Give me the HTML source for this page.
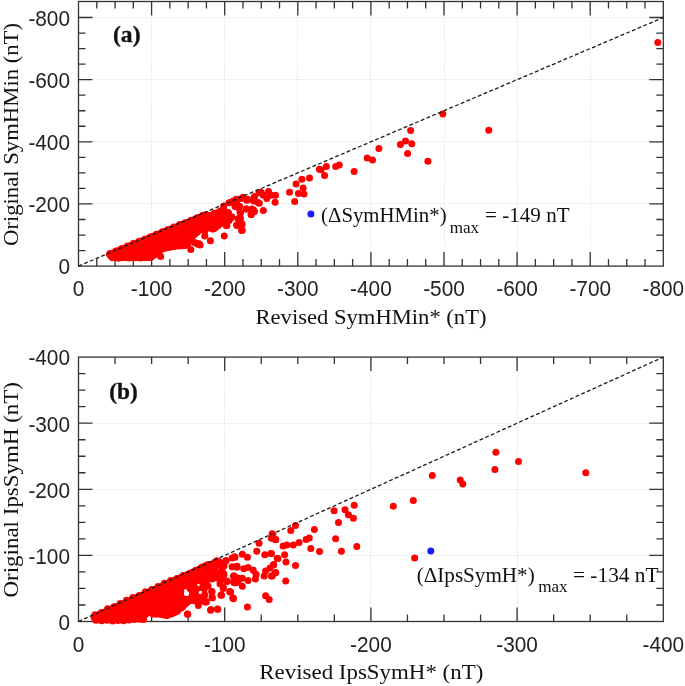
<!DOCTYPE html>
<html><head><meta charset="utf-8"><style>html,body{margin:0;padding:0;background:#fff;overflow:hidden;}
svg{display:block;will-change:transform;}
.tl{font-family:"Liberation Sans", sans-serif;font-size:20.8px;fill:#222;}
.at{font-family:"Liberation Serif", serif;font-size:22px;fill:#111;}
.pl{font-family:"Liberation Serif", serif;font-size:24px;font-weight:bold;fill:#111;stroke:#111;stroke-width:0.35px;}
.an{font-family:"Liberation Serif", serif;font-size:20px;fill:#111;}
.sub{font-family:"Liberation Serif", serif;font-size:17px;fill:#111;}
</style></head>
<body><svg width="685" height="686" viewBox="0 0 685 686">
<rect width="685" height="686" fill="#ffffff"/>
<line x1="151.50" y1="1.50" x2="151.50" y2="266.10" stroke="#dcdcdc" stroke-width="1" stroke-dasharray="1 1.5"/>
<line x1="224.50" y1="1.50" x2="224.50" y2="266.10" stroke="#dcdcdc" stroke-width="1" stroke-dasharray="1 1.5"/>
<line x1="297.50" y1="1.50" x2="297.50" y2="266.10" stroke="#dcdcdc" stroke-width="1" stroke-dasharray="1 1.5"/>
<line x1="370.50" y1="1.50" x2="370.50" y2="266.10" stroke="#dcdcdc" stroke-width="1" stroke-dasharray="1 1.5"/>
<line x1="444.50" y1="1.50" x2="444.50" y2="266.10" stroke="#dcdcdc" stroke-width="1" stroke-dasharray="1 1.5"/>
<line x1="517.50" y1="1.50" x2="517.50" y2="266.10" stroke="#dcdcdc" stroke-width="1" stroke-dasharray="1 1.5"/>
<line x1="590.50" y1="1.50" x2="590.50" y2="266.10" stroke="#dcdcdc" stroke-width="1" stroke-dasharray="1 1.5"/>
<line x1="78.50" y1="203.50" x2="663.30" y2="203.50" stroke="#dcdcdc" stroke-width="1" stroke-dasharray="1 1.5"/>
<line x1="78.50" y1="141.50" x2="663.30" y2="141.50" stroke="#dcdcdc" stroke-width="1" stroke-dasharray="1 1.5"/>
<line x1="78.50" y1="79.50" x2="663.30" y2="79.50" stroke="#dcdcdc" stroke-width="1" stroke-dasharray="1 1.5"/>
<line x1="78.50" y1="17.50" x2="663.30" y2="17.50" stroke="#dcdcdc" stroke-width="1" stroke-dasharray="1 1.5"/>
<line x1="224.50" y1="357.10" x2="224.50" y2="621.50" stroke="#dcdcdc" stroke-width="1" stroke-dasharray="1 1.5"/>
<line x1="370.50" y1="357.10" x2="370.50" y2="621.50" stroke="#dcdcdc" stroke-width="1" stroke-dasharray="1 1.5"/>
<line x1="517.50" y1="357.10" x2="517.50" y2="621.50" stroke="#dcdcdc" stroke-width="1" stroke-dasharray="1 1.5"/>
<line x1="78.50" y1="555.50" x2="663.30" y2="555.50" stroke="#dcdcdc" stroke-width="1" stroke-dasharray="1 1.5"/>
<line x1="78.50" y1="489.50" x2="663.30" y2="489.50" stroke="#dcdcdc" stroke-width="1" stroke-dasharray="1 1.5"/>
<line x1="78.50" y1="423.50" x2="663.30" y2="423.50" stroke="#dcdcdc" stroke-width="1" stroke-dasharray="1 1.5"/>
<path d="M151.60 266.10V252.10M151.60 1.50V15.50M224.70 266.10V252.10M224.70 1.50V15.50M297.80 266.10V252.10M297.80 1.50V15.50M370.90 266.10V252.10M370.90 1.50V15.50M444.00 266.10V252.10M444.00 1.50V15.50M517.10 266.10V252.10M517.10 1.50V15.50M590.20 266.10V252.10M590.20 1.50V15.50M96.78 266.10V259.10M96.78 1.50V8.50M115.05 266.10V259.10M115.05 1.50V8.50M133.32 266.10V259.10M133.32 1.50V8.50M169.88 266.10V259.10M169.88 1.50V8.50M188.15 266.10V259.10M188.15 1.50V8.50M206.43 266.10V259.10M206.43 1.50V8.50M242.97 266.10V259.10M242.97 1.50V8.50M261.25 266.10V259.10M261.25 1.50V8.50M279.52 266.10V259.10M279.52 1.50V8.50M316.07 266.10V259.10M316.07 1.50V8.50M334.35 266.10V259.10M334.35 1.50V8.50M352.62 266.10V259.10M352.62 1.50V8.50M389.18 266.10V259.10M389.18 1.50V8.50M407.45 266.10V259.10M407.45 1.50V8.50M425.72 266.10V259.10M425.72 1.50V8.50M462.27 266.10V259.10M462.27 1.50V8.50M480.55 266.10V259.10M480.55 1.50V8.50M498.82 266.10V259.10M498.82 1.50V8.50M535.38 266.10V259.10M535.38 1.50V8.50M553.65 266.10V259.10M553.65 1.50V8.50M571.92 266.10V259.10M571.92 1.50V8.50M608.48 266.10V259.10M608.48 1.50V8.50M626.75 266.10V259.10M626.75 1.50V8.50M645.02 266.10V259.10M645.02 1.50V8.50M78.50 203.95H92.50M663.30 203.95H649.30M78.50 141.80H92.50M663.30 141.80H649.30M78.50 79.65H92.50M663.30 79.65H649.30M78.50 17.50H92.50M663.30 17.50H649.30M78.50 250.56H85.50M663.30 250.56H656.30M78.50 235.03H85.50M663.30 235.03H656.30M78.50 219.49H85.50M663.30 219.49H656.30M78.50 188.41H85.50M663.30 188.41H656.30M78.50 172.88H85.50M663.30 172.88H656.30M78.50 157.34H85.50M663.30 157.34H656.30M78.50 126.26H85.50M663.30 126.26H656.30M78.50 110.73H85.50M663.30 110.73H656.30M78.50 95.19H85.50M663.30 95.19H656.30M78.50 64.11H85.50M663.30 64.11H656.30M78.50 48.58H85.50M663.30 48.58H656.30M78.50 33.04H85.50M663.30 33.04H656.30" stroke="#333333" stroke-width="1.3" fill="none"/>
<rect x="78.5" y="1.5" width="584.80" height="264.60" stroke="#333333" stroke-width="1.3" fill="none"/>
<path d="M224.70 621.50V607.50M224.70 357.10V371.10M370.90 621.50V607.50M370.90 357.10V371.10M517.10 621.50V607.50M517.10 357.10V371.10M115.05 621.50V614.50M115.05 357.10V364.10M151.60 621.50V614.50M151.60 357.10V364.10M188.15 621.50V614.50M188.15 357.10V364.10M261.25 621.50V614.50M261.25 357.10V364.10M297.80 621.50V614.50M297.80 357.10V364.10M334.35 621.50V614.50M334.35 357.10V364.10M407.45 621.50V614.50M407.45 357.10V364.10M444.00 621.50V614.50M444.00 357.10V364.10M480.55 621.50V614.50M480.55 357.10V364.10M553.65 621.50V614.50M553.65 357.10V364.10M590.20 621.50V614.50M590.20 357.10V364.10M626.75 621.50V614.50M626.75 357.10V364.10M78.50 555.40H92.50M663.30 555.40H649.30M78.50 489.30H92.50M663.30 489.30H649.30M78.50 423.20H92.50M663.30 423.20H649.30M78.50 604.98H85.50M663.30 604.98H656.30M78.50 588.45H85.50M663.30 588.45H656.30M78.50 571.92H85.50M663.30 571.92H656.30M78.50 538.88H85.50M663.30 538.88H656.30M78.50 522.35H85.50M663.30 522.35H656.30M78.50 505.83H85.50M663.30 505.83H656.30M78.50 472.77H85.50M663.30 472.77H656.30M78.50 456.25H85.50M663.30 456.25H656.30M78.50 439.73H85.50M663.30 439.73H656.30M78.50 406.68H85.50M663.30 406.68H656.30M78.50 390.15H85.50M663.30 390.15H656.30M78.50 373.62H85.50M663.30 373.62H656.30" stroke="#333333" stroke-width="1.3" fill="none"/>
<rect x="78.5" y="357.1" width="584.80" height="264.40" stroke="#333333" stroke-width="1.3" fill="none"/>
<path d="M109.5 254.5L120.0 250.1L135.0 243.7L150.0 237.8L165.0 231.4L180.0 225.8L195.0 219.4L206.0 214.7L210.0 216.0L221.0 211.3L224.0 210.0L226.0 214.0L224.0 219.0L220.0 224.3L214.2 228.7L206.9 227.5L202.0 228.0L197.0 232.5L192.0 236.5L189.0 240.0L188.0 244.0L185.0 245.5L176.0 246.0L168.0 247.5L163.0 248.5L158.0 252.0L155.0 254.5L150.0 257.4L130.0 257.4L112.0 257.4Z" fill="#ff0000" stroke="#ff0000" stroke-width="7.0" stroke-linejoin="round"/>
<path d="M94.0 616.9L100.0 614.2L110.0 609.7L120.0 605.1L130.0 600.6L140.0 596.1L150.0 591.6L160.0 587.1L170.0 582.5L180.0 578.0L190.0 573.5L200.0 569.0L206.0 566.3L208.0 568.0L207.0 578.0L204.0 590.0L200.0 598.0L196.0 601.0L190.0 600.0L184.0 605.0L180.0 608.0L177.0 611.0L171.0 614.0L166.8 615.5L160.0 614.0L152.8 614.0L149.3 611.2L145.8 614.0L143.0 618.0L130.0 619.0L110.0 619.5L95.0 619.5Z" fill="#ff0000" stroke="#ff0000" stroke-width="7.0" stroke-linejoin="round"/>
<circle cx="110.0" cy="253.5" r="3.5" fill="#ff0000"/>
<circle cx="115.8" cy="251.0" r="3.5" fill="#ff0000"/>
<circle cx="121.6" cy="248.6" r="3.5" fill="#ff0000"/>
<circle cx="127.4" cy="246.1" r="3.5" fill="#ff0000"/>
<circle cx="133.2" cy="243.6" r="3.5" fill="#ff0000"/>
<circle cx="139.0" cy="241.2" r="3.5" fill="#ff0000"/>
<circle cx="144.8" cy="239.2" r="3.5" fill="#ff0000"/>
<circle cx="150.6" cy="236.8" r="3.5" fill="#ff0000"/>
<circle cx="156.4" cy="234.3" r="3.5" fill="#ff0000"/>
<circle cx="162.2" cy="231.8" r="3.5" fill="#ff0000"/>
<circle cx="168.0" cy="229.4" r="3.5" fill="#ff0000"/>
<circle cx="173.8" cy="226.9" r="3.5" fill="#ff0000"/>
<circle cx="179.6" cy="224.4" r="3.5" fill="#ff0000"/>
<circle cx="185.4" cy="222.7" r="3.5" fill="#ff0000"/>
<circle cx="191.2" cy="220.2" r="3.5" fill="#ff0000"/>
<circle cx="197.0" cy="217.7" r="3.5" fill="#ff0000"/>
<circle cx="202.8" cy="215.3" r="3.5" fill="#ff0000"/>
<circle cx="208.6" cy="215.8" r="3.5" fill="#ff0000"/>
<circle cx="214.4" cy="213.3" r="3.5" fill="#ff0000"/>
<circle cx="220.2" cy="210.9" r="3.5" fill="#ff0000"/>
<circle cx="95.0" cy="614.7" r="3.5" fill="#ff0000"/>
<circle cx="101.3" cy="612.6" r="3.5" fill="#ff0000"/>
<circle cx="107.6" cy="608.7" r="3.5" fill="#ff0000"/>
<circle cx="113.9" cy="606.7" r="3.5" fill="#ff0000"/>
<circle cx="120.2" cy="603.5" r="3.5" fill="#ff0000"/>
<circle cx="126.5" cy="600.3" r="3.5" fill="#ff0000"/>
<circle cx="132.8" cy="597.6" r="3.5" fill="#ff0000"/>
<circle cx="139.1" cy="595.5" r="3.5" fill="#ff0000"/>
<circle cx="145.4" cy="591.7" r="3.5" fill="#ff0000"/>
<circle cx="151.7" cy="589.6" r="3.5" fill="#ff0000"/>
<circle cx="158.0" cy="586.5" r="3.5" fill="#ff0000"/>
<circle cx="164.3" cy="583.2" r="3.5" fill="#ff0000"/>
<circle cx="170.6" cy="580.6" r="3.5" fill="#ff0000"/>
<circle cx="176.9" cy="578.4" r="3.5" fill="#ff0000"/>
<circle cx="183.2" cy="575.5" r="3.5" fill="#ff0000"/>
<circle cx="189.5" cy="573.4" r="3.5" fill="#ff0000"/>
<circle cx="195.8" cy="570.3" r="3.5" fill="#ff0000"/>
<circle cx="202.1" cy="567.0" r="3.5" fill="#ff0000"/>
<circle cx="208.4" cy="564.4" r="3.5" fill="#ff0000"/>
<circle cx="214.7" cy="562.2" r="3.5" fill="#ff0000"/>
<circle cx="113.0" cy="257.8" r="3.5" fill="#ff0000"/>
<circle cx="118.5" cy="258.2" r="3.5" fill="#ff0000"/>
<circle cx="124.0" cy="257.6" r="3.5" fill="#ff0000"/>
<circle cx="129.5" cy="258.1" r="3.5" fill="#ff0000"/>
<circle cx="135.0" cy="257.7" r="3.5" fill="#ff0000"/>
<circle cx="140.5" cy="257.9" r="3.5" fill="#ff0000"/>
<circle cx="146.0" cy="257.5" r="3.5" fill="#ff0000"/>
<circle cx="151.0" cy="257.2" r="3.5" fill="#ff0000"/>
<circle cx="155.5" cy="613.8" r="3.5" fill="#ff0000"/>
<circle cx="161.0" cy="614.2" r="3.5" fill="#ff0000"/>
<circle cx="166.8" cy="615.3" r="3.5" fill="#ff0000"/>
<circle cx="172.0" cy="613.6" r="3.5" fill="#ff0000"/>
<circle cx="177.3" cy="611.2" r="3.5" fill="#ff0000"/>
<circle cx="181.0" cy="608.0" r="3.5" fill="#ff0000"/>
<circle cx="96.0" cy="620.3" r="3.5" fill="#ff0000"/>
<circle cx="101.5" cy="620.8" r="3.5" fill="#ff0000"/>
<circle cx="107.0" cy="620.2" r="3.5" fill="#ff0000"/>
<circle cx="112.5" cy="620.9" r="3.5" fill="#ff0000"/>
<circle cx="118.0" cy="620.4" r="3.5" fill="#ff0000"/>
<circle cx="123.5" cy="620.7" r="3.5" fill="#ff0000"/>
<circle cx="129.0" cy="620.1" r="3.5" fill="#ff0000"/>
<circle cx="134.5" cy="619.6" r="3.5" fill="#ff0000"/>
<circle cx="140.0" cy="619.2" r="3.5" fill="#ff0000"/>
<circle cx="143.5" cy="619.5" r="3.5" fill="#ff0000"/>
<circle cx="186.5" cy="593.5" r="2.6" fill="#fff"/>
<circle cx="185.5" cy="590.5" r="1.6" fill="#fff"/>
<circle cx="200.5" cy="592.5" r="1.8" fill="#fff"/>
<circle cx="198.5" cy="585" r="1.2" fill="#fff"/>
<circle cx="228.3" cy="213.0" r="3.5" fill="#ff0000"/>
<circle cx="225.0" cy="217.6" r="3.5" fill="#ff0000"/>
<circle cx="226.9" cy="225.5" r="3.5" fill="#ff0000"/>
<circle cx="223.7" cy="206.1" r="3.5" fill="#ff0000"/>
<circle cx="228.9" cy="202.8" r="3.5" fill="#ff0000"/>
<circle cx="232.9" cy="201.2" r="3.5" fill="#ff0000"/>
<circle cx="229.0" cy="220.5" r="3.5" fill="#ff0000"/>
<circle cx="231.0" cy="218.0" r="3.5" fill="#ff0000"/>
<circle cx="224.2" cy="236.1" r="3.5" fill="#ff0000"/>
<circle cx="210.4" cy="240.7" r="3.5" fill="#ff0000"/>
<circle cx="204.8" cy="236.1" r="3.5" fill="#ff0000"/>
<circle cx="199.2" cy="243.8" r="3.5" fill="#ff0000"/>
<circle cx="241.6" cy="230.5" r="3.5" fill="#ff0000"/>
<circle cx="237.0" cy="225.4" r="3.5" fill="#ff0000"/>
<circle cx="242.1" cy="224.3" r="3.5" fill="#ff0000"/>
<circle cx="226.3" cy="225.4" r="3.5" fill="#ff0000"/>
<circle cx="251.3" cy="214.6" r="3.5" fill="#ff0000"/>
<circle cx="253.4" cy="210.0" r="3.5" fill="#ff0000"/>
<circle cx="246.2" cy="209.0" r="3.5" fill="#ff0000"/>
<circle cx="239.0" cy="208.0" r="3.5" fill="#ff0000"/>
<circle cx="235.0" cy="206.5" r="3.5" fill="#ff0000"/>
<circle cx="237.0" cy="200.3" r="3.5" fill="#ff0000"/>
<circle cx="243.1" cy="197.3" r="3.5" fill="#ff0000"/>
<circle cx="246.7" cy="200.3" r="3.5" fill="#ff0000"/>
<circle cx="253.9" cy="197.8" r="3.5" fill="#ff0000"/>
<circle cx="259.0" cy="192.7" r="3.5" fill="#ff0000"/>
<circle cx="258.0" cy="202.4" r="3.5" fill="#ff0000"/>
<circle cx="228.3" cy="212.6" r="3.5" fill="#ff0000"/>
<circle cx="238.0" cy="218.7" r="3.5" fill="#ff0000"/>
<circle cx="240.1" cy="212.6" r="3.5" fill="#ff0000"/>
<circle cx="216.6" cy="224.9" r="3.5" fill="#ff0000"/>
<circle cx="212.5" cy="229.0" r="3.5" fill="#ff0000"/>
<circle cx="204.8" cy="231.0" r="3.5" fill="#ff0000"/>
<circle cx="190.8" cy="249.6" r="3.5" fill="#ff0000"/>
<circle cx="197.2" cy="243.8" r="3.5" fill="#ff0000"/>
<circle cx="200.1" cy="245.0" r="3.5" fill="#ff0000"/>
<circle cx="198.1" cy="244.2" r="3.5" fill="#ff0000"/>
<circle cx="194.6" cy="242.4" r="3.5" fill="#ff0000"/>
<circle cx="160.7" cy="256.6" r="3.5" fill="#ff0000"/>
<circle cx="289.5" cy="192.3" r="3.5" fill="#ff0000"/>
<circle cx="275.1" cy="202.3" r="3.5" fill="#ff0000"/>
<circle cx="275.5" cy="195.3" r="3.5" fill="#ff0000"/>
<circle cx="268.5" cy="191.4" r="3.5" fill="#ff0000"/>
<circle cx="261.1" cy="192.3" r="3.5" fill="#ff0000"/>
<circle cx="266.8" cy="198.4" r="3.5" fill="#ff0000"/>
<circle cx="263.3" cy="195.3" r="3.5" fill="#ff0000"/>
<circle cx="271.2" cy="195.3" r="3.5" fill="#ff0000"/>
<circle cx="263.3" cy="210.6" r="3.5" fill="#ff0000"/>
<circle cx="259.3" cy="203.2" r="3.5" fill="#ff0000"/>
<circle cx="254.5" cy="196.6" r="3.5" fill="#ff0000"/>
<circle cx="253.6" cy="201.0" r="3.5" fill="#ff0000"/>
<circle cx="247.5" cy="199.3" r="3.5" fill="#ff0000"/>
<circle cx="241.4" cy="198.4" r="3.5" fill="#ff0000"/>
<circle cx="236.1" cy="199.3" r="3.5" fill="#ff0000"/>
<circle cx="231.8" cy="201.9" r="3.5" fill="#ff0000"/>
<circle cx="246.2" cy="208.9" r="3.5" fill="#ff0000"/>
<circle cx="251.9" cy="208.9" r="3.5" fill="#ff0000"/>
<circle cx="254.5" cy="211.5" r="3.5" fill="#ff0000"/>
<circle cx="251.0" cy="214.6" r="3.5" fill="#ff0000"/>
<circle cx="239.6" cy="206.3" r="3.5" fill="#ff0000"/>
<circle cx="235.3" cy="205.4" r="3.5" fill="#ff0000"/>
<circle cx="240.5" cy="213.3" r="3.5" fill="#ff0000"/>
<circle cx="231.8" cy="216.8" r="3.5" fill="#ff0000"/>
<circle cx="240.5" cy="218.5" r="3.5" fill="#ff0000"/>
<circle cx="241.4" cy="223.8" r="3.5" fill="#ff0000"/>
<circle cx="236.6" cy="225.1" r="3.5" fill="#ff0000"/>
<circle cx="242.3" cy="230.3" r="3.5" fill="#ff0000"/>
<circle cx="319.4" cy="169.3" r="3.5" fill="#ff0000"/>
<circle cx="309.5" cy="178.1" r="3.5" fill="#ff0000"/>
<circle cx="301.9" cy="179.3" r="3.5" fill="#ff0000"/>
<circle cx="296.1" cy="183.9" r="3.5" fill="#ff0000"/>
<circle cx="303.1" cy="188.0" r="3.5" fill="#ff0000"/>
<circle cx="298.4" cy="193.6" r="3.5" fill="#ff0000"/>
<circle cx="304.0" cy="193.9" r="3.5" fill="#ff0000"/>
<circle cx="294.7" cy="201.5" r="3.5" fill="#ff0000"/>
<circle cx="378.9" cy="148.4" r="3.5" fill="#ff0000"/>
<circle cx="367.2" cy="158.1" r="3.5" fill="#ff0000"/>
<circle cx="372.5" cy="159.9" r="3.5" fill="#ff0000"/>
<circle cx="354.1" cy="171.5" r="3.5" fill="#ff0000"/>
<circle cx="335.7" cy="166.6" r="3.5" fill="#ff0000"/>
<circle cx="339.2" cy="165.1" r="3.5" fill="#ff0000"/>
<circle cx="326.4" cy="166.6" r="3.5" fill="#ff0000"/>
<circle cx="321.1" cy="169.8" r="3.5" fill="#ff0000"/>
<circle cx="324.6" cy="175.6" r="3.5" fill="#ff0000"/>
<circle cx="442.8" cy="114.0" r="3.5" fill="#ff0000"/>
<circle cx="410.6" cy="130.6" r="3.5" fill="#ff0000"/>
<circle cx="405.5" cy="141.1" r="3.5" fill="#ff0000"/>
<circle cx="400.4" cy="144.6" r="3.5" fill="#ff0000"/>
<circle cx="411.8" cy="143.8" r="3.5" fill="#ff0000"/>
<circle cx="407.6" cy="153.5" r="3.5" fill="#ff0000"/>
<circle cx="427.9" cy="161.3" r="3.5" fill="#ff0000"/>
<circle cx="488.8" cy="130.3" r="3.5" fill="#ff0000"/>
<circle cx="657.8" cy="42.4" r="3.5" fill="#ff0000"/>
<circle cx="272.1" cy="533.8" r="3.5" fill="#ff0000"/>
<circle cx="271.4" cy="538.2" r="3.5" fill="#ff0000"/>
<circle cx="275.5" cy="539.7" r="3.5" fill="#ff0000"/>
<circle cx="259.0" cy="543.3" r="3.5" fill="#ff0000"/>
<circle cx="256.8" cy="551.3" r="3.5" fill="#ff0000"/>
<circle cx="264.8" cy="554.7" r="3.5" fill="#ff0000"/>
<circle cx="270.7" cy="553.5" r="3.5" fill="#ff0000"/>
<circle cx="277.2" cy="558.6" r="3.5" fill="#ff0000"/>
<circle cx="235.0" cy="557.2" r="3.5" fill="#ff0000"/>
<circle cx="242.3" cy="554.2" r="3.5" fill="#ff0000"/>
<circle cx="247.4" cy="557.2" r="3.5" fill="#ff0000"/>
<circle cx="232.1" cy="557.9" r="3.5" fill="#ff0000"/>
<circle cx="226.2" cy="560.8" r="3.5" fill="#ff0000"/>
<circle cx="218.9" cy="561.5" r="3.5" fill="#ff0000"/>
<circle cx="213.8" cy="565.2" r="3.5" fill="#ff0000"/>
<circle cx="236.4" cy="566.6" r="3.5" fill="#ff0000"/>
<circle cx="243.7" cy="568.8" r="3.5" fill="#ff0000"/>
<circle cx="248.1" cy="567.4" r="3.5" fill="#ff0000"/>
<circle cx="253.2" cy="570.3" r="3.5" fill="#ff0000"/>
<circle cx="256.1" cy="574.6" r="3.5" fill="#ff0000"/>
<circle cx="255.4" cy="579.0" r="3.5" fill="#ff0000"/>
<circle cx="248.1" cy="580.5" r="3.5" fill="#ff0000"/>
<circle cx="242.3" cy="578.3" r="3.5" fill="#ff0000"/>
<circle cx="242.3" cy="586.3" r="3.5" fill="#ff0000"/>
<circle cx="234.2" cy="576.1" r="3.5" fill="#ff0000"/>
<circle cx="234.2" cy="582.7" r="3.5" fill="#ff0000"/>
<circle cx="237.9" cy="581.2" r="3.5" fill="#ff0000"/>
<circle cx="227.0" cy="581.2" r="3.5" fill="#ff0000"/>
<circle cx="221.1" cy="579.7" r="3.5" fill="#ff0000"/>
<circle cx="223.3" cy="587.0" r="3.5" fill="#ff0000"/>
<circle cx="230.6" cy="592.1" r="3.5" fill="#ff0000"/>
<circle cx="233.5" cy="598.7" r="3.5" fill="#ff0000"/>
<circle cx="221.1" cy="595.0" r="3.5" fill="#ff0000"/>
<circle cx="212.4" cy="598.0" r="3.5" fill="#ff0000"/>
<circle cx="211.7" cy="591.4" r="3.5" fill="#ff0000"/>
<circle cx="205.8" cy="601.6" r="3.5" fill="#ff0000"/>
<circle cx="210.9" cy="609.6" r="3.5" fill="#ff0000"/>
<circle cx="217.5" cy="608.9" r="3.5" fill="#ff0000"/>
<circle cx="247.4" cy="607.1" r="3.5" fill="#ff0000"/>
<circle cx="265.6" cy="595.8" r="3.5" fill="#ff0000"/>
<circle cx="269.2" cy="599.4" r="3.5" fill="#ff0000"/>
<circle cx="264.1" cy="576.1" r="3.5" fill="#ff0000"/>
<circle cx="265.6" cy="571.0" r="3.5" fill="#ff0000"/>
<circle cx="271.4" cy="576.1" r="3.5" fill="#ff0000"/>
<circle cx="275.8" cy="572.5" r="3.5" fill="#ff0000"/>
<circle cx="273.6" cy="564.4" r="3.5" fill="#ff0000"/>
<circle cx="270.0" cy="568.1" r="3.5" fill="#ff0000"/>
<circle cx="221.9" cy="563.7" r="3.5" fill="#ff0000"/>
<circle cx="214.6" cy="568.1" r="3.5" fill="#ff0000"/>
<circle cx="221.9" cy="569.5" r="3.5" fill="#ff0000"/>
<circle cx="218.9" cy="574.6" r="3.5" fill="#ff0000"/>
<circle cx="223.3" cy="578.3" r="3.5" fill="#ff0000"/>
<circle cx="208.7" cy="575.4" r="3.5" fill="#ff0000"/>
<circle cx="207.3" cy="566.6" r="3.5" fill="#ff0000"/>
<circle cx="237.1" cy="566.3" r="3.5" fill="#ff0000"/>
<circle cx="233.6" cy="576.0" r="3.5" fill="#ff0000"/>
<circle cx="236.1" cy="582.7" r="3.5" fill="#ff0000"/>
<circle cx="230.0" cy="591.8" r="3.5" fill="#ff0000"/>
<circle cx="233.1" cy="598.0" r="3.5" fill="#ff0000"/>
<circle cx="221.3" cy="594.9" r="3.5" fill="#ff0000"/>
<circle cx="217.8" cy="609.2" r="3.5" fill="#ff0000"/>
<circle cx="210.6" cy="610.2" r="3.5" fill="#ff0000"/>
<circle cx="187.7" cy="614.3" r="3.5" fill="#ff0000"/>
<circle cx="198.4" cy="605.6" r="3.5" fill="#ff0000"/>
<circle cx="205.0" cy="602.0" r="3.5" fill="#ff0000"/>
<circle cx="182.6" cy="607.1" r="3.5" fill="#ff0000"/>
<circle cx="187.5" cy="613.9" r="3.5" fill="#ff0000"/>
<circle cx="334.1" cy="510.7" r="3.5" fill="#ff0000"/>
<circle cx="345.0" cy="509.7" r="3.5" fill="#ff0000"/>
<circle cx="348.4" cy="514.8" r="3.5" fill="#ff0000"/>
<circle cx="338.5" cy="522.4" r="3.5" fill="#ff0000"/>
<circle cx="335.6" cy="538.8" r="3.5" fill="#ff0000"/>
<circle cx="341.4" cy="551.2" r="3.5" fill="#ff0000"/>
<circle cx="314.4" cy="529.6" r="3.5" fill="#ff0000"/>
<circle cx="295.5" cy="525.4" r="3.5" fill="#ff0000"/>
<circle cx="290.8" cy="530.5" r="3.5" fill="#ff0000"/>
<circle cx="309.3" cy="538.1" r="3.5" fill="#ff0000"/>
<circle cx="306.1" cy="539.5" r="3.5" fill="#ff0000"/>
<circle cx="299.1" cy="542.5" r="3.5" fill="#ff0000"/>
<circle cx="293.3" cy="545.1" r="3.5" fill="#ff0000"/>
<circle cx="286.8" cy="545.1" r="3.5" fill="#ff0000"/>
<circle cx="283.1" cy="546.1" r="3.5" fill="#ff0000"/>
<circle cx="310.8" cy="548.6" r="3.5" fill="#ff0000"/>
<circle cx="319.5" cy="551.5" r="3.5" fill="#ff0000"/>
<circle cx="284.6" cy="554.8" r="3.5" fill="#ff0000"/>
<circle cx="278.0" cy="558.5" r="3.5" fill="#ff0000"/>
<circle cx="286.0" cy="562.1" r="3.5" fill="#ff0000"/>
<circle cx="295.5" cy="565.5" r="3.5" fill="#ff0000"/>
<circle cx="273.6" cy="565.0" r="3.5" fill="#ff0000"/>
<circle cx="271.5" cy="553.4" r="3.5" fill="#ff0000"/>
<circle cx="272.9" cy="534.4" r="3.5" fill="#ff0000"/>
<circle cx="275.8" cy="539.5" r="3.5" fill="#ff0000"/>
<circle cx="275.1" cy="573.1" r="3.5" fill="#ff0000"/>
<circle cx="272.2" cy="576.0" r="3.5" fill="#ff0000"/>
<circle cx="285.7" cy="581.1" r="3.5" fill="#ff0000"/>
<circle cx="432.3" cy="475.5" r="3.5" fill="#ff0000"/>
<circle cx="413.3" cy="500.4" r="3.5" fill="#ff0000"/>
<circle cx="393.3" cy="506.2" r="3.5" fill="#ff0000"/>
<circle cx="354.2" cy="505.3" r="3.5" fill="#ff0000"/>
<circle cx="353.4" cy="518.2" r="3.5" fill="#ff0000"/>
<circle cx="356.8" cy="546.6" r="3.5" fill="#ff0000"/>
<circle cx="414.7" cy="557.9" r="3.5" fill="#ff0000"/>
<circle cx="460.2" cy="479.9" r="3.5" fill="#ff0000"/>
<circle cx="462.8" cy="484.1" r="3.5" fill="#ff0000"/>
<circle cx="494.9" cy="469.4" r="3.5" fill="#ff0000"/>
<circle cx="495.9" cy="452.3" r="3.5" fill="#ff0000"/>
<circle cx="518.5" cy="461.5" r="3.5" fill="#ff0000"/>
<circle cx="585.8" cy="472.8" r="3.5" fill="#ff0000"/>
<circle cx="234.5" cy="556.8" r="3.5" fill="#ff0000"/>
<circle cx="225.7" cy="560.8" r="3.5" fill="#ff0000"/>
<circle cx="216.8" cy="560.8" r="3.5" fill="#ff0000"/>
<circle cx="206.4" cy="565.2" r="3.5" fill="#ff0000"/>
<circle cx="215.2" cy="566.8" r="3.5" fill="#ff0000"/>
<circle cx="220.8" cy="564.4" r="3.5" fill="#ff0000"/>
<circle cx="224.0" cy="566.0" r="3.5" fill="#ff0000"/>
<circle cx="236.9" cy="567.2" r="3.5" fill="#ff0000"/>
<circle cx="232.1" cy="566.8" r="3.5" fill="#ff0000"/>
<circle cx="220.0" cy="572.4" r="3.5" fill="#ff0000"/>
<circle cx="214.4" cy="574.0" r="3.5" fill="#ff0000"/>
<circle cx="224.0" cy="574.0" r="3.5" fill="#ff0000"/>
<circle cx="233.7" cy="576.5" r="3.5" fill="#ff0000"/>
<circle cx="237.7" cy="578.0" r="3.5" fill="#ff0000"/>
<circle cx="233.7" cy="582.0" r="3.5" fill="#ff0000"/>
<circle cx="227.3" cy="581.3" r="3.5" fill="#ff0000"/>
<circle cx="220.0" cy="583.7" r="3.5" fill="#ff0000"/>
<circle cx="223.2" cy="588.5" r="3.5" fill="#ff0000"/>
<circle cx="229.7" cy="591.7" r="3.5" fill="#ff0000"/>
<circle cx="232.9" cy="598.1" r="3.5" fill="#ff0000"/>
<circle cx="221.2" cy="595.3" r="3.5" fill="#ff0000"/>
<circle cx="212.0" cy="591.7" r="3.5" fill="#ff0000"/>
<circle cx="212.0" cy="597.3" r="3.5" fill="#ff0000"/>
<circle cx="204.8" cy="594.9" r="3.5" fill="#ff0000"/>
<circle cx="201.6" cy="600.5" r="3.5" fill="#ff0000"/>
<circle cx="206.4" cy="602.1" r="3.5" fill="#ff0000"/>
<circle cx="206.4" cy="580.5" r="3.5" fill="#ff0000"/>
<circle cx="208.0" cy="586.0" r="3.5" fill="#ff0000"/>
<circle cx="203.2" cy="574.0" r="3.5" fill="#ff0000"/>
<circle cx="212.0" cy="578.9" r="3.5" fill="#ff0000"/>
<circle cx="201.6" cy="567.6" r="3.5" fill="#ff0000"/>
<circle cx="210.0" cy="570.0" r="3.5" fill="#ff0000"/>
<circle cx="217.0" cy="578.0" r="3.5" fill="#ff0000"/>
<circle cx="310.9" cy="214.0" r="3.5" fill="#1a1aff"/>
<circle cx="430.8" cy="551.0" r="3.5" fill="#1a1aff"/>
<line x1="78.5" y1="266.1" x2="663.30" y2="17.50" stroke="#1a1a1a" stroke-width="1.3" stroke-dasharray="3.8 2.4"/>
<line x1="78.5" y1="621.5" x2="663.30" y2="357.10" stroke="#1a1a1a" stroke-width="1.3" stroke-dasharray="3.8 2.4"/>
<text transform="translate(78.50 295.70) scale(1 1.045)" text-anchor="middle" class="tl">0</text>
<text transform="translate(151.60 295.70) scale(1 1.045)" text-anchor="middle" class="tl">-100</text>
<text transform="translate(224.70 295.70) scale(1 1.045)" text-anchor="middle" class="tl">-200</text>
<text transform="translate(297.80 295.70) scale(1 1.045)" text-anchor="middle" class="tl">-300</text>
<text transform="translate(370.90 295.70) scale(1 1.045)" text-anchor="middle" class="tl">-400</text>
<text transform="translate(444.00 295.70) scale(1 1.045)" text-anchor="middle" class="tl">-500</text>
<text transform="translate(517.10 295.70) scale(1 1.045)" text-anchor="middle" class="tl">-600</text>
<text transform="translate(590.20 295.70) scale(1 1.045)" text-anchor="middle" class="tl">-700</text>
<text transform="translate(663.30 295.70) scale(1 1.045)" text-anchor="middle" class="tl">-800</text>
<text transform="translate(70.00 274.40) scale(1 1.045)" text-anchor="end" class="tl">0</text>
<text transform="translate(70.00 212.25) scale(1 1.045)" text-anchor="end" class="tl">-200</text>
<text transform="translate(70.00 150.10) scale(1 1.045)" text-anchor="end" class="tl">-400</text>
<text transform="translate(70.00 87.95) scale(1 1.045)" text-anchor="end" class="tl">-600</text>
<text transform="translate(70.00 25.80) scale(1 1.045)" text-anchor="end" class="tl">-800</text>
<text transform="translate(78.50 652.00) scale(1 1.045)" text-anchor="middle" class="tl">0</text>
<text transform="translate(224.70 652.00) scale(1 1.045)" text-anchor="middle" class="tl">-100</text>
<text transform="translate(370.90 652.00) scale(1 1.045)" text-anchor="middle" class="tl">-200</text>
<text transform="translate(517.10 652.00) scale(1 1.045)" text-anchor="middle" class="tl">-300</text>
<text transform="translate(663.30 652.00) scale(1 1.045)" text-anchor="middle" class="tl">-400</text>
<text transform="translate(70.00 629.80) scale(1 1.045)" text-anchor="end" class="tl">0</text>
<text transform="translate(70.00 563.70) scale(1 1.045)" text-anchor="end" class="tl">-100</text>
<text transform="translate(70.00 497.60) scale(1 1.045)" text-anchor="end" class="tl">-200</text>
<text transform="translate(70.00 431.50) scale(1 1.045)" text-anchor="end" class="tl">-300</text>
<text transform="translate(70.00 365.40) scale(1 1.045)" text-anchor="end" class="tl">-400</text>
<text x="255.5" y="324" text-anchor="start" class="at" textLength="231" lengthAdjust="spacingAndGlyphs">Revised SymHMin* (nT)</text>
<text x="259.3" y="679" text-anchor="start" class="at" textLength="224" lengthAdjust="spacingAndGlyphs">Revised IpsSymH* (nT)</text>
<text transform="translate(17.8 246) rotate(-90)" text-anchor="start" class="at" textLength="223" lengthAdjust="spacingAndGlyphs">Original SymHMin (nT)</text>
<text transform="translate(17.8 597.5) rotate(-90)" text-anchor="start" class="at" textLength="215.5" lengthAdjust="spacingAndGlyphs">Original IpsSymH (nT)</text>
<text x="113" y="41.5" text-anchor="start" class="pl" textLength="27.5" lengthAdjust="spacingAndGlyphs">(a)</text>
<text x="109.2" y="398.8" text-anchor="start" class="pl" textLength="28.5" lengthAdjust="spacingAndGlyphs">(b)</text>
<text x="321.1" y="222.4" text-anchor="start" class="an" textLength="125.5" lengthAdjust="spacingAndGlyphs">(&#916;SymHMin*)</text>
<text x="449.7" y="232.9" text-anchor="start" class="sub" textLength="29.5" lengthAdjust="spacingAndGlyphs">max</text>
<text x="485.1" y="222.4" text-anchor="start" class="an" textLength="84.5" lengthAdjust="spacingAndGlyphs">= -149 nT</text>
<text x="416.7" y="581.8" text-anchor="start" class="an" textLength="118" lengthAdjust="spacingAndGlyphs">(&#916;IpsSymH*)</text>
<text x="538.2" y="592.2" text-anchor="start" class="sub" textLength="29.5" lengthAdjust="spacingAndGlyphs">max</text>
<text x="573" y="581.8" text-anchor="start" class="an" textLength="85.5" lengthAdjust="spacingAndGlyphs">= -134 nT</text>
</svg></body></html>
